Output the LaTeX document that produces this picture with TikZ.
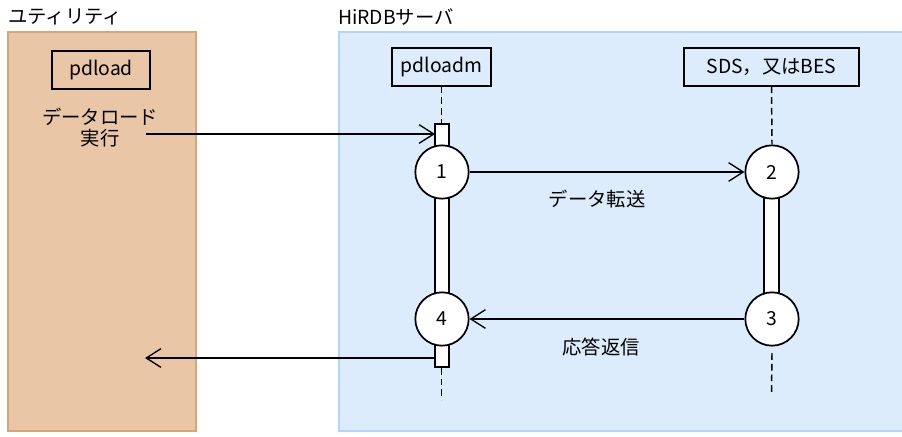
\documentclass[tikz,border=0pt]{standalone}
\usepackage{fontspec}
\setmainfont{Noto Sans CJK JP}
\usetikzlibrary{arrows.meta,positioning}
\definecolor{utilfill}{HTML}{E8C6A6}
\definecolor{utildraw}{HTML}{D6A677}
\definecolor{srvfill}{HTML}{DCECFC}
\definecolor{srvdraw}{HTML}{B3D5F7}
\tikzset{
  lifehead/.style = {draw, line width=1.3pt, rectangle, minimum height=28pt,
                     inner sep=2pt, align=center},
  stepcirc/.style = {draw, line width=1.3pt, circle, fill=white,
                     minimum size=40pt, inner sep=0pt},
  actbar/.style   = {draw, line width=1.3pt, fill=white},
  lifeline/.style = {line width=1.1pt, dash pattern=on 5pt off 3pt},
  msg/.style      = {-{Straight Barb[length=11pt,width=14pt]}, line width=1pt},
}

\begin{document}
\begin{tikzpicture}[x=0.75pt,y=-0.75pt,font=\fontsize{14.5}{15.75}\selectfont]
\useasboundingbox (0,0) rectangle (902,436);
% areas
\draw[utildraw,fill=utilfill,line width=1.5pt] (8,32) rectangle (196,431);
\draw[srvdraw,fill=srvfill,line width=1.5pt] (339,32) rectangle (904,431);
\node[anchor=west,inner sep=0pt] (utiltitle) at (8,17) {ユティリティ};
\node[anchor=west,inner sep=0pt] (srvtitle) at (338,17) {HiRDBサーバ};
% lifeline heads
\node[lifehead,minimum width=74pt] (pdload) at (101,70) {pdload};
\node[lifehead,minimum width=74pt] (pdloadm) at (441.5,67) {pdloadm};
\node[lifehead,minimum width=131pt] (sds) at (771.5,67) {SDS，又はBES};
\node[align=center] (loadexec) at (100,128) {データロード\\実行};
% activation bars
\draw[actbar] (435,124) rectangle (449,367);
\draw[actbar] (764,172) rectangle (779,319);
% dashed lifelines
\draw[lifeline] (pdloadm.south) -- (441.5,124);
\draw[lifeline] (441.5,368) -- (441.5,400);
% steps
\node[stepcirc] (c1) at (442,172) {1};
\node[stepcirc] (c2) at (772,172) {2};
\node[stepcirc] (c3) at (772,319) {3};
\node[stepcirc] (c4) at (442,319) {4};
\draw[lifeline] (sds.south) -- (c2.north);
\draw[lifeline] ([yshift=-5pt]c3.south) -- (771.5,394);
% messages
\coordinate (reqstart) at (146,134);
\coordinate (reqend) at (435,134);
\coordinate (retstart) at (435,358);
\coordinate (retend) at (145,358);
\draw[msg] (reqstart) -- (reqend);
\draw[msg] (c1) -- (c2);
\draw[msg] (c3) -- (c4);
\draw[msg] (retstart) -- (retend);
\node (xfer) at (597,199) {データ転送};
\node (reply) at (601,347) {応答返信};
\end{tikzpicture}
\end{document}
